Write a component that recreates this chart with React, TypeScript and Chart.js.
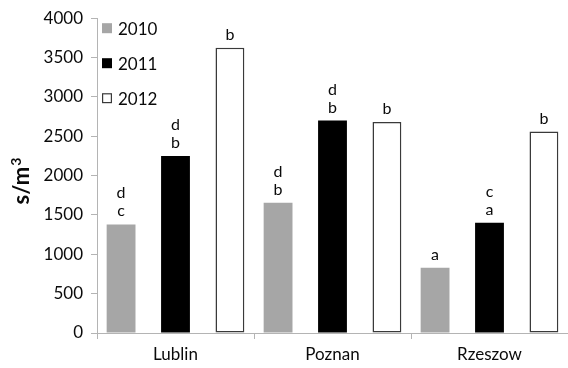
import React, { useEffect, useRef } from "react";
import { Chart, registerables } from "chart.js";

Chart.register(...registerables);

// Cities and survey years
const categories = ["Lublin", "Poznan", "Rzeszow"];
const years = ["2010", "2011", "2012"];

// Values in s/m³ per city
const values2010 = [1380, 1655, 830];
const values2011 = [2250, 2700, 1400];
const values2012 = [3625, 2680, 2560];

// Significance letters shown above each bar (bottom line last)
const letters2010 = [["d", "c"], ["d", "b"], ["a"]];
const letters2011 = [["d", "b"], ["d", "b"], ["c", "a"]];
const letters2012 = [["b"], ["b"], ["b"]];

const yTicks = { min: 0, max: 4000, step: 500 };
const yTitle = { base: "s/m", sup: "3" };

const FONT = "Lato, 'Open Sans', sans-serif";
const AXIS_GREY = "#b4b4b4";
const TEXT = "#0a0a0a";

const colors = [
  { fill: "#a6a6a6", border: "#a6a6a6", borderWidth: 0 },
  { fill: "#000000", border: "#000000", borderWidth: 0 },
  { fill: "#ffffff", border: "#3a3a3a", borderWidth: 1.5 },
];

const letterSets = [letters2010, letters2011, letters2012];

// Letters above bars
const lettersPlugin = {
  id: "barLetters",
  afterDatasetsDraw(chart: any) {
    const ctx = chart.ctx;
    ctx.save();
    ctx.font = `16px ${FONT}`;
    ctx.fillStyle = TEXT;
    ctx.textAlign = "center";
    ctx.textBaseline = "alphabetic";
    chart.data.datasets.forEach((_ds: any, di: number) => {
      const meta = chart.getDatasetMeta(di);
      meta.data.forEach((bar: any, i: number) => {
        const lines = letterSets[di][i];
        const n = lines.length;
        lines.forEach((txt: string, li: number) => {
          const y = bar.y - 8 - (n - 1 - li) * 18;
          ctx.fillText(txt, bar.x, y);
        });
      });
    });
    ctx.restore();
  },
};

// Legend stacked inside the top-left of the plot
const innerLegendPlugin = {
  id: "innerLegend",
  afterDraw(chart: any) {
    const ctx = chart.ctx;
    const left = chart.chartArea.left + 5;
    const top = chart.chartArea.top + 10;
    ctx.save();
    ctx.font = `17px ${FONT}`;
    ctx.textBaseline = "middle";
    ctx.textAlign = "left";
    years.forEach((label, i) => {
      const cy = top + i * 35;
      const c = colors[i];
      ctx.fillStyle = c.fill;
      ctx.fillRect(left, cy - 5, 10, 10);
      if (c.borderWidth) {
        ctx.strokeStyle = c.border;
        ctx.lineWidth = 1.2;
        ctx.strokeRect(left + 0.6, cy - 4.4, 8.8, 8.8);
      }
      ctx.fillStyle = TEXT;
      ctx.fillText(label, left + 16, cy + 1);
    });
    ctx.restore();
  },
};

// Rotated y-axis title with superscript
const yTitlePlugin = {
  id: "yTitle",
  afterDraw(chart: any) {
    const ctx = chart.ctx;
    const { top, bottom } = chart.chartArea;
    ctx.save();
    ctx.translate(29, (top + bottom) / 2 + 6);
    ctx.rotate(-Math.PI / 2);
    ctx.fillStyle = TEXT;
    ctx.textBaseline = "alphabetic";
    const baseFont = `bold 22px ${FONT}`;
    const supFont = `bold 14px ${FONT}`;
    ctx.font = baseFont;
    const wBase = ctx.measureText(yTitle.base).width;
    ctx.font = supFont;
    const wSup = ctx.measureText(yTitle.sup).width;
    const start = -(wBase + wSup) / 2;
    ctx.font = baseFont;
    ctx.textAlign = "left";
    ctx.fillText(yTitle.base, start, 0);
    ctx.font = supFont;
    ctx.fillText(yTitle.sup, start + wBase + 1, -8);
    ctx.restore();
  },
};

export default function App() {
  const canvasRef = useRef<HTMLCanvasElement | null>(null);

  useEffect(() => {
    if (!canvasRef.current) return;
    const datasets = [values2010, values2011, values2012].map((vals, i) => ({
      label: years[i],
      data: vals,
      backgroundColor: colors[i].fill,
      borderColor: colors[i].border,
      borderWidth: colors[i].borderWidth,
      borderSkipped: false as const,
      categoryPercentage: 1.04,
      barPercentage: 0.53,
    }));
    const chart = new Chart(canvasRef.current, {
      type: "bar",
      data: { labels: categories, datasets },
      options: {
        animation: false,
        responsive: true,
        maintainAspectRatio: false,
        layout: { padding: { top: 17, right: 0, left: 0, bottom: 0 } },
        plugins: {
          legend: { display: false },
          tooltip: { enabled: false },
        },
        scales: {
          x: {
            grid: {
              offset: true,
              drawOnChartArea: false,
              drawTicks: true,
              tickLength: 6,
              color: AXIS_GREY,
            },
            border: { color: AXIS_GREY, width: 1 },
            ticks: {
              color: TEXT,
              font: { family: FONT, size: 17 },
              padding: 5,
            },
            afterFit(scale: any) {
              scale.height = 35;
            },
          },
          y: {
            min: yTicks.min,
            max: yTicks.max,
            grid: {
              drawOnChartArea: false,
              drawTicks: true,
              tickLength: 6,
              color: AXIS_GREY,
            },
            border: { color: AXIS_GREY, width: 1 },
            ticks: {
              stepSize: yTicks.step,
              color: TEXT,
              font: { family: FONT, size: 17 },
              padding: 8,
              callback: (v: any) => String(v),
            },
            afterFit(scale: any) {
              scale.width = 97;
            },
          },
        },
      },
      plugins: [lettersPlugin, innerLegendPlugin, yTitlePlugin],
    });
    return () => chart.destroy();
  }, []);

  return (
    <div style={{ position: "absolute", left: 0, top: 0, width: 568, height: 368, background: "#fff" }}>
      <canvas ref={canvasRef} />
    </div>
  );
}
